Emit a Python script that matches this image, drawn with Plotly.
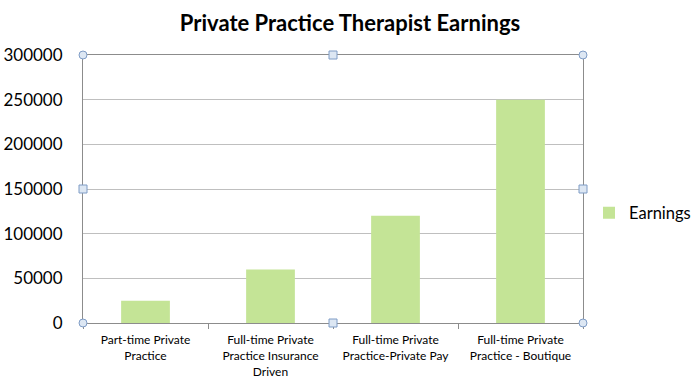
import plotly.graph_objects as go

categories = ["Part-time Private<br>Practice",
              "Full-time Private<br>Practice Insurance<br>Driven",
              "Full-time Private<br>Practice-Private Pay",
              "Full-time Private<br>Practice - Boutique"]
earnings = [25000, 60000, 120000, 250000]
y_ticks = [0, 50000, 100000, 150000, 200000, 250000, 300000]

FONT = "Lato, 'Open Sans', sans-serif"

fig = go.Figure()
fig.add_trace(go.Bar(
    x=categories, y=earnings, name="Earnings",
    marker=dict(color="#C4E496", line=dict(width=0)),
    width=0.39, showlegend=True,
))

fig.update_layout(
    width=700, height=380,
    margin=dict(l=83, r=117, t=55, b=57, autoexpand=False),
    paper_bgcolor="white", plot_bgcolor="white",
    title=dict(text="<b>Private Practice Therapist Earnings</b>", x=0.5, xanchor="center",
               y=0.94, yanchor="middle", font=dict(family=FONT, size=22, color="black")),
    font=dict(family=FONT, color="black"),
    legend=dict(x=1.012, y=0.41, xanchor="left", yanchor="middle",
                font=dict(size=16.5, family=FONT), bgcolor="rgba(0,0,0,0)"),
    bargap=0.61,
)
fig.update_xaxes(
    showgrid=False, showline=True, linecolor="#8c8c8c", linewidth=1, mirror=True,
    ticks="outside", tickson="boundaries", ticklen=5, tickcolor="#8c8c8c",
    tickfont=dict(size=12, family=FONT), ticklabelstandoff=6, fixedrange=True,
)
fig.update_yaxes(
    range=[0, 300000], tickvals=y_ticks, ticktext=[str(v) for v in y_ticks],
    showgrid=True, gridcolor="#bfbfbf", gridwidth=1,
    showline=True, linecolor="#8c8c8c", linewidth=1, mirror=True,
    ticks="", tickfont=dict(size=17, family=FONT), ticklabelstandoff=16,
    zeroline=False, fixedrange=True,
)

# selection handles on plot-area frame
handles = [(0, 0, "circle"), (1, 0, "circle"), (0, 1, "circle"), (1, 1, "circle"),
           (0.5, 1, "rect"), (0.5, 0, "rect"), (0, 0.5, "rect"), (1, 0.5, "rect")]
for hx, hy, kind in handles:
    fig.add_shape(type=kind, xref="paper", yref="paper",
                  xsizemode="pixel", ysizemode="pixel", xanchor=hx, yanchor=hy,
                  x0=-4, x1=4, y0=-4, y1=4,
                  fillcolor="#dde7f3", line=dict(color="#7f9cc6", width=1), layer="above")

fig.write_html("out.html", config={"displayModeBar": False},
               post_script="document.body.style.margin='0';document.body.style.overflow='hidden';")
